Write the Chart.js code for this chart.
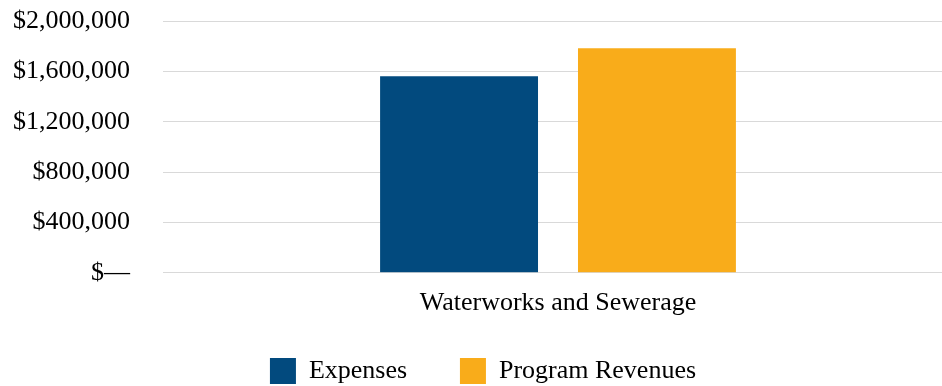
<!DOCTYPE html>
<html>
<head>
<meta charset="utf-8">
<script src="https://cdn.jsdelivr.net/npm/chart.js@4/dist/chart.umd.min.js"></script>
<style>
  html, body { margin: 0; padding: 0; background: #fff; overflow: hidden; }
  #wrap { width: 942px; height: 386px; overflow: hidden; position: relative; }
  canvas { display: block; }
</style>
</head>
<body>
<div id="wrap"><canvas id="c" width="954" height="394" style="width:954px;height:394px"></canvas></div>
<script>
const categories = ['Waterworks and Sewerage'];
const seriesNames = ['Expenses', 'Program Revenues'];
const expenses = [1561000];
const programRevenues = [1783000];
const yMin = 0;
const yMax = 2000000;
const yStep = 400000;

const FONT = { family: '"Liberation Serif", "Times New Roman", serif', size: 26 };

const noLabelClip = (s) => { s._computeLabelArea = () => undefined; };

new Chart(document.getElementById('c'), {
  type: 'bar',
  data: {
    labels: categories,
    datasets: [
      { label: seriesNames[0], data: expenses, backgroundColor: '#024A7E', categoryPercentage: 0.501, barPercentage: 0.798 },
      { label: seriesNames[1], data: programRevenues, backgroundColor: '#F9AC1A', categoryPercentage: 0.501, barPercentage: 0.798 }
    ]
  },
  options: {
    responsive: false,
    animation: false,
    devicePixelRatio: 1,
    layout: { padding: { top: 21, left: 13, right: 1, bottom: 0 } },
    plugins: {
      legend: {
        position: 'bottom',
        labels: {
          font: FONT,
          color: '#000',
          boxWidth: 26,
          boxHeight: 26,
          padding: 52.8
        }
      },
      tooltip: { enabled: false }
    },
    scales: {
      x: {
        grid: { display: false, drawTicks: false },
        border: { display: false },
        ticks: { font: FONT, color: '#000', padding: 14.4 },
        afterFit: (s) => { s.height = 32.5; noLabelClip(s); }
      },
      y: {
        min: yMin,
        max: yMax,
        grid: { color: '#d9d9d9', lineWidth: 1, drawTicks: false },
        border: { display: false },
        ticks: {
          stepSize: yStep,
          font: FONT,
          color: '#000',
          padding: 33,
          callback: (v) => v === 0 ? '$\u2014' : '$' + Number(v).toLocaleString('en-US')
        },
        afterFit: (s) => { s.width = 150; s.paddingTop = 0; s.paddingBottom = 0; noLabelClip(s); }
      }
    }
  }
});
</script>
</body>
</html>
